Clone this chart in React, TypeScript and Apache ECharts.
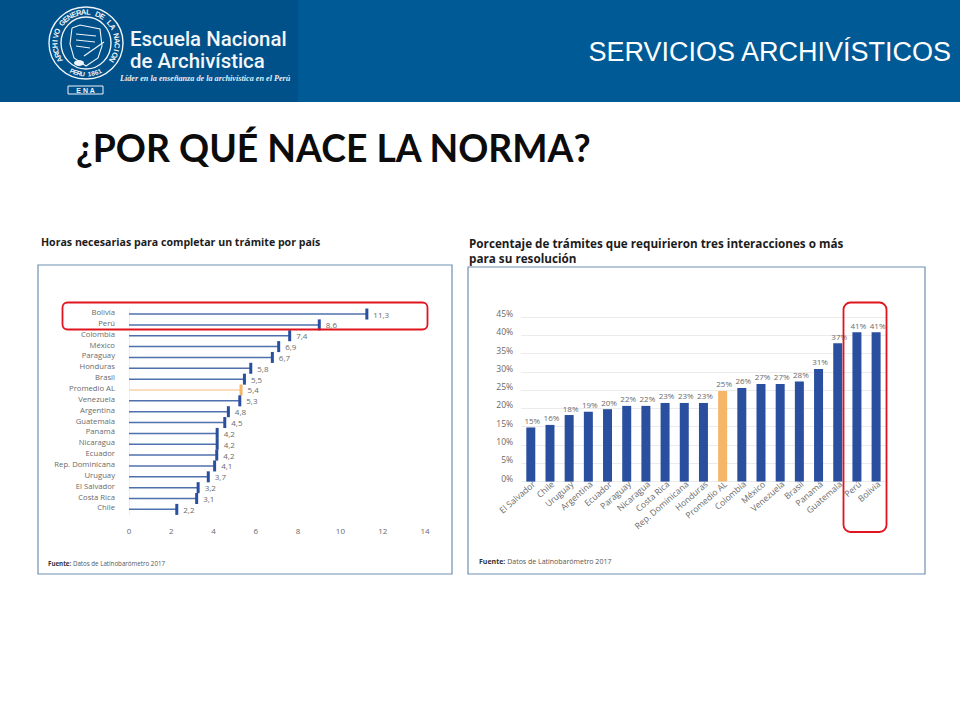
import React, { useEffect, useRef } from "react";
import * as echarts from "echarts";

const hoursCountries = ["Bolivia","Perú","Colombia","México","Paraguay","Honduras","Brasil","Promedio AL","Venezuela","Argentina","Guatemala","Panamá","Nicaragua","Ecuador","Rep. Dominicana","Uruguay","El Salvador","Costa Rica","Chile"];
const hoursValues = [11.25,9.0,7.6,7.08,6.78,5.76,5.46,5.3,5.24,4.7,4.53,4.17,4.17,4.15,4.05,3.75,3.27,3.2,2.26];
const hoursLabels = ["11,3","8,6","7,4","6,9","6,7","5,8","5,5","5,4","5,3","4,8","4,5","4,2","4,2","4,2","4,1","3,7","3,2","3,1","2,2"];

const shareCountries = ["El Salvador","Chile","Uruguay","Argentina","Ecuador","Paraguay","Nicaragua","Costa Rica","Rep. Dominicana","Honduras","Promedio AL","Colombia","México","Venezuela","Brasil","Panamá","Guatemala","Perú","Bolivia"];
const shareValues = [14.8,15.5,18.2,19.1,19.8,20.7,20.7,21.5,21.5,21.5,24.8,25.6,26.7,26.7,27.4,30.8,37.8,40.8,40.8];
const shareLabels = ["15%","16%","18%","19%","20%","22%","22%","23%","23%","23%","25%","26%","27%","27%","28%","31%","37%","41%","41%"];

const BLUE = "#2a4f9e";
const THIN = "#4f70ae";
const ORANGE = "#f6b667";
const ORANGE_THIN = "#f8d2a5";
const TXT = "#6a6a6a";
const FONT = "'Open Sans', sans-serif";
const HIGHLIGHT = "Promedio AL";

const ringTop = "ARCHIVO GENERAL DE LA NACION";
const ringBottom = "PERU 1861";

function logo(): any[] {
  const cx = 86, cy = 43;
  const white = "#eef4f8";
  const out: any[] = [
    { type: "ellipse", shape: { cx, cy, rx: 37, ry: 36 }, style: { fill: "none", stroke: white, lineWidth: 1.4 } },
    { type: "ellipse", shape: { cx, cy, rx: 25, ry: 26 }, style: { fill: "none", stroke: white, lineWidth: 1.4 } },
    { type: "polyline", shape: { points: [[72,28],[80,25],[100,29],[102,46],[98,58],[86,66],[74,58],[70,44],[72,28]] }, style: { fill: "none", stroke: white, lineWidth: 1.1 } },
    { type: "polyline", shape: { points: [[76,34],[96,36]] }, style: { fill: "none", stroke: white, lineWidth: 1 } },
    { type: "polyline", shape: { points: [[76,40],[95,42]] }, style: { fill: "none", stroke: white, lineWidth: 1 } },
    { type: "polyline", shape: { points: [[76,46],[90,48]] }, style: { fill: "none", stroke: white, lineWidth: 1 } },
    { type: "polyline", shape: { points: [[84,56],[104,42]] }, style: { fill: "none", stroke: white, lineWidth: 1.2 } },
    { type: "ellipse", shape: { cx: 79, cy: 63, rx: 5, ry: 3 }, style: { fill: white } },
    { type: "rect", shape: { x: 68, y: 86, width: 35, height: 8 }, style: { fill: "none", stroke: white, lineWidth: 1 } },
    { type: "text", x: 85.5, y: 90, style: { text: "E N A", fill: white, font: "bold 7px 'Liberation Sans'", align: "center", verticalAlign: "middle" } },
  ];
  const n1 = ringTop.length;
  ringTop.split("").forEach((ch, i) => {
    const deg = -122 + (244 * i) / (n1 - 1);
    const a = (deg * Math.PI) / 180;
    out.push({ type: "text", x: cx + 31 * Math.sin(a), y: cy - 31 * Math.cos(a), rotation: -a,
      style: { text: ch, fill: white, font: "bold 7.5px 'Liberation Sans'", align: "center", verticalAlign: "middle" } });
  });
  const n2 = ringBottom.length;
  ringBottom.split("").forEach((ch, i) => {
    const deg = -26 + (52 * i) / (n2 - 1);
    const a = (deg * Math.PI) / 180;
    out.push({ type: "text", x: cx + 31 * Math.sin(a), y: cy + 31 * Math.cos(a), rotation: a,
      style: { text: ch, fill: white, font: "bold 6.5px 'Liberation Sans'", align: "center", verticalAlign: "middle" } });
  });
  return out;
}

function fuente(x: number, y: number, size: number) {
  return {
    type: "text", x, y,
    style: {
      rich: {
        b: { font: `bold ${size}px ${FONT}`, fill: "#333" },
        r: { font: `${size}px ${FONT}`, fill: "#555" },
      },
      text: "{b|Fuente:}{r| Datos de Latinobarómetro 2017}",
      verticalAlign: "middle",
    },
  };
}

export default function App() {
  const ref = useRef<HTMLDivElement>(null);
  useEffect(() => {
    const chart = echarts.init(ref.current!, undefined, { renderer: "svg" });
    const isAvg = (i: number) => hoursCountries[i] === HIGHLIGHT;
    chart.setOption({
      animation: false,
      backgroundColor: "#ffffff",
      grid: [
        { left: 129, top: 308.6, width: 296, height: 206.2 },
        { left: 521.2, top: 317, width: 364.5, height: 164.6 },
      ],
      xAxis: [
        {
          type: "value", gridIndex: 0, min: 0, max: 14, interval: 2,
          axisLine: { show: false }, axisTick: { show: false }, splitLine: { show: false },
          axisLabel: { color: TXT, fontSize: 8, fontFamily: FONT, margin: 12 },
        },
        {
          type: "category", gridIndex: 1, data: shareCountries,
          axisLine: { show: false }, axisTick: { show: false },
          axisLabel: { color: TXT, fontSize: 8.6, fontFamily: FONT, rotate: 41, margin: 4, interval: 0, padding: [0, -4, 0, 0] },
        },
      ],
      yAxis: [
        {
          type: "category", gridIndex: 0, inverse: true, data: hoursCountries,
          axisLine: { show: true, lineStyle: { color: "#f0f0f0" } }, axisTick: { show: false },
          axisLabel: { color: TXT, fontSize: 7.7, fontFamily: FONT, margin: 14, interval: 0, verticalAlign: "bottom", lineHeight: 4 },
        },
        {
          type: "value", gridIndex: 1, min: 0, max: 45, interval: 5,
          axisLine: { show: false }, axisTick: { show: false },
          splitLine: { lineStyle: { color: "#ebebeb", width: 1 } },
          axisLabel: { color: TXT, fontSize: 8.6, fontFamily: FONT, margin: 8, formatter: "{value}%", verticalAlign: "bottom", lineHeight: 6 },
        },
      ],
      series: [
        {
          type: "bar", xAxisIndex: 0, yAxisIndex: 0, barWidth: 1.5, silent: true,
          data: hoursValues.map((v, i) => ({ value: v, itemStyle: { color: isAvg(i) ? ORANGE_THIN : THIN } })),
        },
        {
          type: "scatter", xAxisIndex: 0, yAxisIndex: 0, symbol: "rect", symbolSize: [3, 11], silent: true,
          data: hoursValues.map((v, i) => ({ value: [v, i], itemStyle: { color: isAvg(i) ? ORANGE : BLUE, opacity: 1 } })),
          label: {
            show: true, position: "right", distance: 5, color: TXT, fontSize: 8, fontFamily: FONT,
            formatter: (p: any) => hoursLabels[p.dataIndex],
          },
        },
        {
          type: "bar", xAxisIndex: 1, yAxisIndex: 1, barWidth: 9, silent: true,
          data: shareValues.map((v, i) => ({ value: v, itemStyle: { color: shareCountries[i] === HIGHLIGHT ? ORANGE : BLUE } })),
          label: {
            show: true, position: "top", distance: 3, offset: [1.5, 0], color: TXT, fontSize: 8, fontFamily: FONT,
            formatter: (p: any) => shareLabels[p.dataIndex],
          },
        },
      ],
      graphic: [
        { type: "rect", z: -10, shape: { x: 0, y: 0, width: 960, height: 102 }, style: { fill: "#005a96" } },
        { type: "rect", z: -9, shape: { x: 0, y: 0, width: 298, height: 102 }, style: { fill: "#00508a" } },
        ...logo().map((e) => ({ ...e, z: 5 })),
        { type: "text", x: 130, y: 39, style: { text: "Escuela Nacional", fill: "#f2f6f9", font: "500 20.4px Roboto", verticalAlign: "middle" } },
        { type: "text", x: 130, y: 61, style: { text: "de Archivística", fill: "#f2f6f9", font: "500 20.4px Roboto", verticalAlign: "middle" } },
        { type: "text", x: 120, y: 78, style: { text: "Líder en la enseñanza de la archivística en el Perú", fill: "#e8eef3", font: "italic bold 8.2px 'Liberation Serif'", verticalAlign: "middle" } },
        { type: "text", x: 951, y: 52, style: { text: "SERVICIOS ARCHIVÍSTICOS", fill: "#ffffff", font: "27px 'Liberation Sans'", align: "right", verticalAlign: "middle" } },
        { type: "text", x: 76, y: 147, style: { text: "¿POR QUÉ NACE LA NORMA?", fill: "#0c0c0c", font: "bold 37.3px Lato", verticalAlign: "middle" } },
        { type: "text", x: 41, y: 242, style: { text: "Horas necesarias para completar un trámite por país", fill: "#1c1c1c", font: `bold 10.6px ${FONT}`, verticalAlign: "middle" } },
        { type: "text", x: 469, y: 243, style: { text: "Porcentaje de trámites que requirieron tres interacciones o más", fill: "#1c1c1c", font: `bold 11.7px ${FONT}`, verticalAlign: "middle" } },
        { type: "text", x: 469, y: 258, style: { text: "para su resolución", fill: "#1c1c1c", font: `bold 11.7px ${FONT}`, verticalAlign: "middle" } },
        { type: "rect", shape: { x: 38, y: 265, width: 414, height: 309 }, style: { fill: "none", stroke: "#6f90b3", lineWidth: 1.2 } },
        { type: "rect", shape: { x: 468, y: 267, width: 457, height: 307 }, style: { fill: "none", stroke: "#6f90b3", lineWidth: 1.2 } },
        { type: "rect", z: 10, shape: { x: 62.5, y: 302.5, width: 365, height: 27, r: 5 }, style: { fill: "none", stroke: "#e0141e", lineWidth: 1.8 } },
        { type: "rect", z: 10, shape: { x: 843.5, y: 302.5, width: 43, height: 229.5, r: 7 }, style: { fill: "none", stroke: "#e0141e", lineWidth: 1.8 } },
        fuente(48, 563.5, 6.2),
        fuente(479, 561.5, 7),
      ],
    });
    return () => chart.dispose();
  }, []);
  return <div ref={ref} style={{ position: "fixed", left: 0, top: 0, width: 960, height: 720 }} />;
}
